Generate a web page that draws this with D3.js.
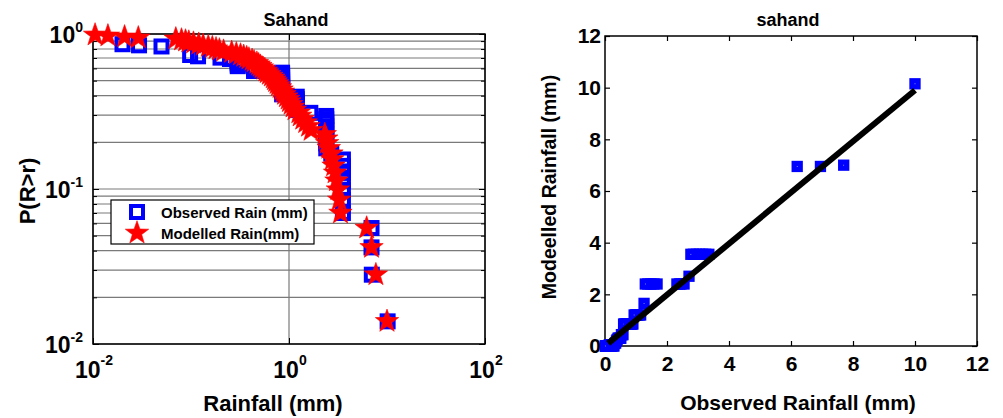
<!DOCTYPE html>
<html><head><meta charset="utf-8">
<script src="https://cdn.jsdelivr.net/npm/d3@7"></script>
<style>
html,body{margin:0;padding:0;background:#fff;}
svg{display:block;}
text{font-family:'Liberation Sans',Arial,Helvetica,sans-serif;font-weight:bold;fill:#000;}
</style>
</head><body>
<svg id="c" width="1003" height="418"></svg>
<script>
// ---- data ----
const exceedProb = [0.014,0.028,0.042,0.056,0.070,0.085,0.099,0.113,0.127,0.141,
  0.155,0.169,0.183,0.197,0.211,0.225,0.239,0.254,0.268,0.282,
  0.296,0.310,0.324,0.338,0.352,0.366,0.380,0.394,0.408,0.423,
  0.437,0.451,0.465,0.479,0.493,0.507,0.521,0.535,0.549,0.563,
  0.577,0.592,0.606,0.620,0.634,0.648,0.662,0.676,0.690,0.704,
  0.718,0.732,0.746,0.761,0.775,0.789,0.803,0.817,0.831,0.845,
  0.859,0.873,0.887,0.901,0.915,0.930,0.944,0.958,0.972,0.986];
// squares (legend "Observed Rain (mm)")
const obsRain = [10.15,7.0,6.95,6.95,3.55,3.55,3.55,3.55,3.55,3.55,
  3.55,2.7,2.4,2.4,2.4,2.4,2.4,2.4,2.4,2.4,
  2.4,1.65,1.2,1.2,1.2,1.2,1.2,1.2,0.85,0.85,
  0.85,0.85,0.85,0.85,0.85,0.85,0.85,0.85,0.85,0.85,
  0.44,0.44,0.44,0.3,0.3,0.3,0.3,0.3,0.25,0.2,
  0.118,0.098,0,0,0,0,0,0,0.05,0.0295,
  0.02,0,0,0,0,0,0,0,0,0];
// stars (legend "Modelled Rain(mm)")
const modRain = [10.0,7.7,6.95,6.2,3.35,3.25,3.15,3.05,2.95,2.85,
  2.77,2.71,2.55,2.45,2.4,2.32,1.68,1.58,1.48,1.38,
  1.3,1.26,1.15,1.10,1.05,1.01,0.98,0.94,0.90,0.87,
  0.84,0.81,0.78,0.755,0.73,0.71,0.69,0.66,0.63,0.60,
  0.58,0.555,0.53,0.51,0.49,0.47,0.44,0.42,0.39,0.37,
  0.345,0.32,0.29,0.26,0.215,0.195,0.18,0.165,0.15,0.133,
  0.12,0.106,0.095,0.088,0.08,0.07,0.029,0.021,0.0142,0.0105];
const xTickExpL = [-2, 0, 2];
const yTickExpL = [0, -1, -2];
const ticksR = [0, 2, 4, 6, 8, 10, 12];
const fitLineX = [0.1, 10];
const fitLineY = [0.1, 9.9];

// ---- setup ----
const svg = d3.select("#c");
svg.append("rect").attr("width",1003).attr("height",418).attr("fill","#fff");

const L = {x0:93, x1:485, y0:34, y1:344};
const R = {x0:605, x1:977, y0:36, y1:346};

const xL = d3.scaleLog().domain([1e-2,1e2]).range([L.x0,L.x1]);
const yL = d3.scaleLog().domain([1e-2,1]).range([L.y1,L.y0]);
const xR = d3.scaleLinear().domain([0,12]).range([R.x0,R.x1]);
const yR = d3.scaleLinear().domain([0,12]).range([R.y1,R.y0]);

function starPath(Rad, ratio){
  const pts=[];
  for(let i=0;i<10;i++){
    const r = i%2 ? Rad*ratio : Rad;
    const a = -Math.PI/2 + i*Math.PI/5;
    pts.push([ (r*Math.cos(a)).toFixed(2), (r*Math.sin(a)).toFixed(2) ]);
  }
  return "M"+pts.map(p=>p.join(",")).join("L")+"Z";
}
const STAR = starPath(12.3, 0.40);

// ---- LEFT PLOT ----
const gL = svg.append("g");
const yGridVals = yL.ticks();
const xMajor = xTickExpL.map(e=>Math.pow(10,e));
const yMajor = yTickExpL.map(e=>Math.pow(10,e));

gL.selectAll("line.hg").data(yGridVals).join("line")
  .attr("x1",L.x0).attr("x2",L.x1)
  .attr("y1",d=>yL(d)).attr("y2",d=>yL(d))
  .attr("stroke","#7a7a7a").attr("stroke-width",1.2);
gL.selectAll("line.vg").data(xMajor).join("line")
  .attr("y1",L.y0).attr("y2",L.y1)
  .attr("x1",d=>xL(d)).attr("x2",d=>xL(d))
  .attr("stroke","#7a7a7a").attr("stroke-width",1.2);

const yMinor = yGridVals.filter(v=>!yMajor.some(m=>Math.abs(m-v)<1e-9));
function tickAxis(gen, transform){
  const g = gL.append("g").attr("transform",transform).call(gen);
  g.select(".domain").remove();
  g.selectAll("line").attr("stroke","#000").attr("stroke-width",1);
  g.selectAll("text").remove();
}
tickAxis(d3.axisLeft(yL).tickValues(yMajor).tickSizeInner(-6).tickSizeOuter(0), `translate(${L.x0},0)`);
tickAxis(d3.axisLeft(yL).tickValues(yMinor).tickSizeInner(-4).tickSizeOuter(0), `translate(${L.x0},0)`);
tickAxis(d3.axisRight(yL).tickValues(yMajor).tickSizeInner(-6).tickSizeOuter(0), `translate(${L.x1},0)`);
tickAxis(d3.axisRight(yL).tickValues(yMinor).tickSizeInner(-4).tickSizeOuter(0), `translate(${L.x1},0)`);
tickAxis(d3.axisBottom(xL).tickValues(xMajor).tickSizeInner(-6).tickSizeOuter(0), `translate(0,${L.y1})`);
tickAxis(d3.axisTop(xL).tickValues(xMajor).tickSizeInner(-6).tickSizeOuter(0), `translate(0,${L.y0})`);

gL.append("rect").attr("x",L.x0).attr("y",L.y0)
  .attr("width",L.x1-L.x0).attr("height",L.y1-L.y0)
  .attr("fill","none").attr("stroke","#000").attr("stroke-width",1.5);

// squares
const sqData = obsRain.map((v,i)=>({v,p:exceedProb[i]})).filter(d=>d.v>0);
gL.selectAll("rect.sq").data(sqData).join("rect")
  .attr("x",d=>xL(d.v)-6).attr("y",d=>yL(d.p)-6)
  .attr("width",12).attr("height",12)
  .attr("fill","none").attr("stroke","#0000ff").attr("stroke-width",4);
// stars
const stData = modRain.map((v,i)=>({v,p:exceedProb[i]})).filter(d=>d.v>0);
gL.selectAll("path.st").data(stData).join("path")
  .attr("d",STAR)
  .attr("transform",d=>`translate(${xL(d.v)},${yL(d.p)})`)
  .attr("fill","#ff0000").attr("stroke","#ff0000").attr("stroke-width",0.6);

// tick labels (10^e)
function expLabel(g, x, y, e, dyExp){
  const t = g.append("text").attr("x",x).attr("y",y).style("font-size","23px");
  t.append("tspan").style("font-size","23px").text("10");
  t.append("tspan").style("font-size","14px").attr("dy",dyExp)
    .text(e===0?"0":(e<0?"-"+(-e):String(e)));
  return t;
}
yTickExpL.forEach(e=>{
  expLabel(gL, L.x0-10, yL(Math.pow(10,e))+9, e, -11).attr("text-anchor","end");
});
xTickExpL.forEach(e=>{
  expLabel(gL, xL(Math.pow(10,e))+1, 378, e, -13).attr("text-anchor","middle");
});

// titles & labels
gL.append("text").attr("x",296).attr("y",26).attr("text-anchor","middle")
  .style("font-size","18px").text("Sahand");
gL.append("text").attr("x",273).attr("y",411).attr("text-anchor","middle")
  .style("font-size","22px").text("Rainfall (mm)");
gL.append("text").attr("transform","translate(35,191) rotate(-90)")
  .attr("text-anchor","middle").style("font-size","22px").text("P(R>r)");

// legend
const lg = gL.append("g");
lg.append("rect").attr("x",111).attr("y",200).attr("width",203).attr("height",44)
  .attr("fill","#fff").attr("stroke","#000").attr("stroke-width",1.2);
lg.append("rect").attr("x",137-6).attr("y",212-6).attr("width",12).attr("height",12)
  .attr("fill","none").attr("stroke","#0000ff").attr("stroke-width",4);
lg.append("path").attr("d",STAR).attr("transform","translate(137,233)")
  .attr("fill","#ff0000").attr("stroke","#ff0000").attr("stroke-width",0.6);
lg.append("text").attr("x",161).attr("y",218).style("font-size","15px").text("Observed Rain (mm)");
lg.append("text").attr("x",161).attr("y",239).style("font-size","15px").text("Modelled Rain(mm)");

// ---- RIGHT PLOT ----
const gR = svg.append("g");
function rAxis(gen, transform, keepText){
  const g = gR.append("g").attr("transform",transform).call(gen);
  g.select(".domain").remove();
  g.selectAll("line").attr("stroke","#000").attr("stroke-width",1.2);
  if(!keepText) g.selectAll("text").remove();
  else g.selectAll("text").attr("fill","#000")
        .style("font-size","21px")
        .style("font-family","'Liberation Sans',Arial,Helvetica,sans-serif").style("font-weight","bold");
  return g;
}
rAxis(d3.axisBottom(xR).tickValues(ticksR).tickFormat(d3.format("d")).tickSizeInner(-5).tickSizeOuter(0).tickPadding(10), `translate(0,${R.y1})`, true);
rAxis(d3.axisLeft(yR).tickValues(ticksR).tickFormat(d3.format("d")).tickSizeInner(-5).tickSizeOuter(0).tickPadding(4), `translate(${R.x0},0)`, true);
rAxis(d3.axisTop(xR).tickValues(ticksR).tickSizeInner(-5).tickSizeOuter(0), `translate(0,${R.y0})`, false);
rAxis(d3.axisRight(yR).tickValues(ticksR).tickSizeInner(-5).tickSizeOuter(0), `translate(${R.x1},0)`, false);

gR.append("rect").attr("x",R.x0).attr("y",R.y0)
  .attr("width",R.x1-R.x0).attr("height",R.y1-R.y0)
  .attr("fill","none").attr("stroke","#000").attr("stroke-width",1.5);

const qq = modRain.map((x,i)=>({x, y:obsRain[i]}));
gR.selectAll("rect.q").data(qq).join("rect")
  .attr("x",d=>xR(d.x)-3).attr("y",d=>yR(d.y)-3)
  .attr("width",6).attr("height",6)
  .attr("fill","#fff").attr("stroke","#0000ff").attr("stroke-width",5.3);

gR.append("path")
  .attr("d", d3.line().x(d=>xR(d[0])).y(d=>yR(d[1]))(fitLineX.map((x,i)=>[x,fitLineY[i]])))
  .attr("stroke","#000").attr("stroke-width",6).attr("fill","none");

gR.append("text").attr("x",788).attr("y",26).attr("text-anchor","middle")
  .style("font-size","18px").text("sahand");
gR.append("text").attr("x",798).attr("y",410).attr("text-anchor","middle")
  .style("font-size","21px").text("Observed Rainfall (mm)");
gR.append("text").attr("transform","translate(556,187) rotate(-90)")
  .attr("text-anchor","middle").style("font-size","19.5px").text("Modeelled Rainfall (mm)");
</script>
</body></html>
